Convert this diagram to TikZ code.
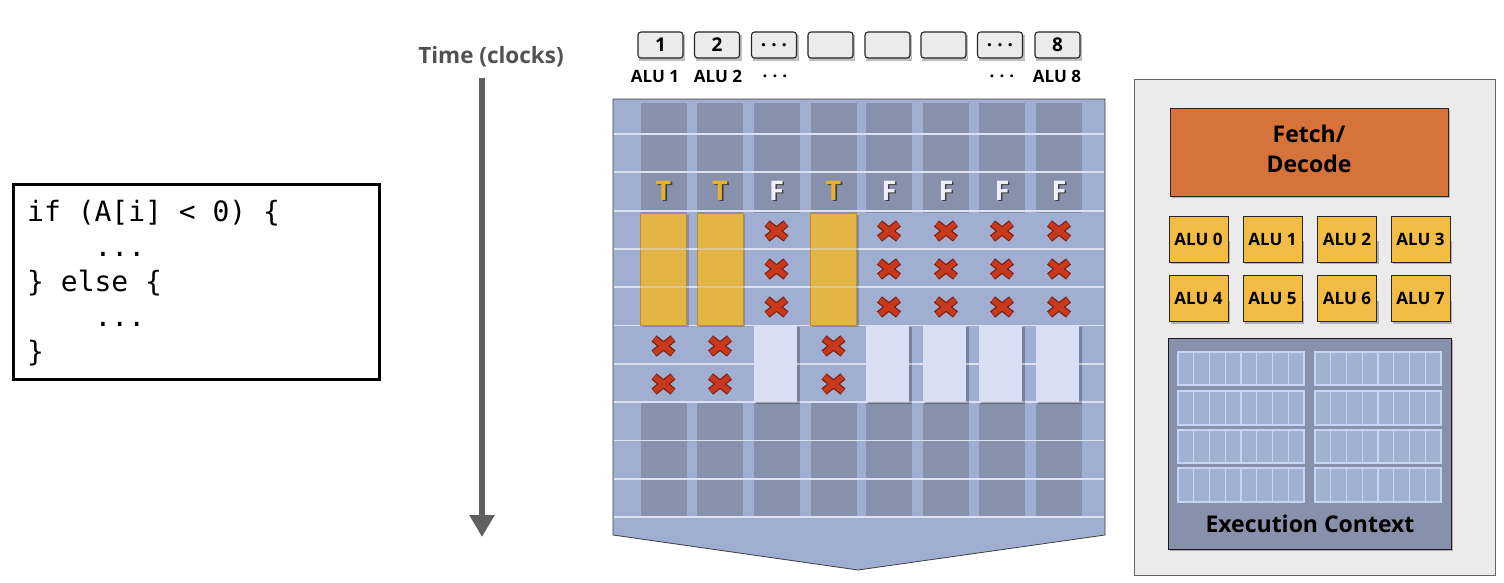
\documentclass[tikz,border=0pt]{standalone}
\usepackage{fontspec}
\setmainfont{Open Sans}
\newfontfamily\codefont{DejaVu Sans Mono}
\usetikzlibrary{arrows.meta}
\definecolor{panelblue}{HTML}{A0AED2}
\definecolor{colgray}{HTML}{8791AB}
\definecolor{gridline}{HTML}{DCE2F2}
\definecolor{lightbar}{HTML}{D9E0F5}
\definecolor{yellowbar}{HTML}{E3B545}
\definecolor{yellowedge}{HTML}{C08E28}
\definecolor{xred}{HTML}{C8381C}
\definecolor{xdark}{HTML}{7A1E10}
\definecolor{tgold}{HTML}{E8B030}
\definecolor{fwhite}{HTML}{EEF1FB}
\definecolor{corebg}{HTML}{EBEBEB}
\definecolor{fetchor}{HTML}{D5733A}
\definecolor{aluyel}{HTML}{F3BD45}
\definecolor{regcell}{HTML}{A2B0D2}
\definecolor{regedge}{HTML}{C8D4F4}
\definecolor{arrowgray}{HTML}{606060}
\newcommand{\spdots}{.\hspace{5pt}.\hspace{5pt}.}
\begin{document}
\begin{tikzpicture}[x=1pt,y=-1pt,
  topbox/.style={draw=black!85, line width=1.1pt, fill=black!8, rounded corners=3pt,
     minimum width=45pt, minimum height=26pt, inner sep=0pt,
     font=\bfseries\fontsize{19}{19}\selectfont},
  alulab/.style={font=\bfseries\fontsize{17}{17}\selectfont, inner sep=0pt},
  alubox/.style={draw=black!85, line width=1pt, fill=aluyel, minimum width=59pt,
     minimum height=46pt, inner sep=0pt, font=\bfseries\fontsize{17}{17}\selectfont},
  codeline/.style={anchor=base west, inner sep=0pt, font=\codefont\fontsize{28}{28}\selectfont},
  tflet/.style={inner sep=0pt, font=\bfseries\fontsize{27}{27}\selectfont},
  shad/.style={fill=black, opacity=0.25},
  xmark/.pic={
    \draw[line width=8pt, xdark] (-9.5,-7.5) -- (9.5,7.5) (-9.5,7.5) -- (9.5,-7.5);
    \draw[line width=5.6pt, xred] (-9,-7.1) -- (9,7.1) (-9,7.1) -- (9,-7.1);
  }]
\useasboundingbox (0,0) rectangle (1504,582);

% ---------------- code box
\node[draw=black, line width=3.5pt, minimum width=366pt, minimum height=195pt, inner sep=0pt]
  (code) at (196.5,282) {};
\node[codeline] (c1) at (27,221) {if (A[i] < 0) \{};
\node[codeline] (c2) at (27,256) {\ \ \ \ ...};
\node[codeline] (c3) at (27,291) {\} else \{};
\node[codeline] (c4) at (27,326) {\ \ \ \ ...};
\node[codeline] (c5) at (27,361) {\}};

% ---------------- time arrow
\node[font=\bfseries\fontsize{22.5}{22.5}\selectfont, text=black!68] (tlabel) at (491,57) {Time (clocks)};
\coordinate (tstart) at (482,78);
\coordinate (tend) at (482,537);
\draw[line width=6pt, arrowgray, -{Triangle[width=24pt,length=22pt]}] (tstart) -- (tend);

% ---------------- top boxes
\foreach \x/\t/\n in {660.5/1/b1, 717/2/b2, 774/{\spdots}/b3, 830.5/{}/b4,
                      887.5/{}/b5, 943.5/{}/b6, 1000/{\spdots}/b7, 1057.5/8/b8} {
  \fill[shad] ({\x-21.5},34.5) rectangle ({\x+24.5},60.5);
  \node[topbox] (\n) at (\x,45) {\t};
}
\node[alulab] (l1) at (655,76) {ALU 1};
\node[alulab] (l2) at (718,76) {ALU 2};
\node[alulab] (l3) at (775,76) {\spdots};
\node[alulab] (l7) at (1002,76) {\spdots};
\node[alulab] (l8) at (1057,76) {ALU 8};

% ---------------- execution panel
\draw[fill=panelblue, draw=black!75, line width=0.8pt]
  (613,99) -- (1105,99) -- (1105,535) -- (858,570) -- (613,535) -- cycle;
\foreach \c in {663.5,720,776.5,833.5,889,946,1002,1059} {
  \fill[colgray] ({\c-23},103) rectangle ({\c+23},213);
  \fill[colgray] ({\c-23},402) rectangle ({\c+23},517);
}
\foreach \k in {0,...,10}
  \draw[gridline, line width=1.8pt] (614,{134+38.3*\k}) -- (1104,{134+38.3*\k});

% T columns: yellow bars
\foreach \c in {663.5,720,833.5} {
  \fill[black, opacity=0.2] ({\c-21},215) rectangle ({\c+25},327);
  \draw[fill=yellowbar, draw=yellowedge, line width=0.8pt] ({\c-23},213) rectangle ({\c+23},325.5);
}
% F columns: light bars
\foreach \c in {776.5,889,946,1002,1059} {
  \fill[black, opacity=0.25] ({\c-21},327) rectangle ({\c+23},404);
  \fill[lightbar] ({\c-23},325.5) rectangle ({\c+20},402);
}
\foreach \k in {3,4,6}
  \draw[gridline, line width=1.5pt, opacity=0.45] (614,{134+38.3*\k}) -- (1104,{134+38.3*\k});

% T / F letters
\foreach \c/\l/\col in {663.5/T/tgold, 720/T/tgold, 776.5/F/fwhite, 833.5/T/tgold,
                        889/F/fwhite, 946/F/fwhite, 1002/F/fwhite, 1059/F/fwhite} {
  \node[tflet, text=black!75] at ({\c+1.6},192.2) {\l};
  \node[tflet, text=\col] at (\c,190.5) {\l};
}

% X marks
\foreach \c in {776.5,889,946,1002,1059}
  \foreach \y in {231,269,307}
    \pic at (\c,\y) {xmark};
\foreach \c in {663.5,720,833.5}
  \foreach \y in {346,384}
    \pic at (\c,\y) {xmark};

% ---------------- core diagram
\draw[fill=corebg, draw=black!60, line width=1pt] (1134,79) rectangle (1495,575);
\fill[shad] (1172,110) rectangle (1450,198);
\node[draw=black!85, line width=1pt, fill=fetchor, minimum width=278pt, minimum height=88pt,
      inner sep=0pt] (fetch) at (1309,152) {};
\node[inner sep=0pt, align=center, font=\bfseries\fontsize{23}{30}\selectfont]
  (fetchlab) at (1309,149) {Fetch/\\Decode};
\foreach \x/\n in {1198.5/0, 1272.5/1, 1347/2, 1420.5/3} {
  \fill[shad] ({\x-27.5},241) rectangle ({\x+31.5},264);
  \node[alubox] (alu\n) at (\x,239) {ALU \n};
}
\foreach \x/\n in {1198.5/4, 1272.5/5, 1347/6, 1420.5/7} {
  \fill[shad] ({\x-27.5},300.5) rectangle ({\x+31.5},323.5);
  \node[alubox] (alu\n) at (\x,298.5) {ALU \n};
}
\fill[shad] (1170,340) rectangle (1453,551);
\node[draw=black!90, line width=1pt, fill=colgray, minimum width=283pt, minimum height=211pt,
      inner sep=0pt] (ctx) at (1309.5,443.5) {};
\foreach \gx in {1178,1315} {
  \foreach \gy/\gh in {352/33, 391/34, 430/33, 468/34} {
    \foreach \i in {0,...,7} {
      \draw[fill=regcell, draw=regedge, line width=1.3pt]
        ({\gx+\i*15.75},\gy) rectangle ({\gx+(\i+1)*15.75},{\gy+\gh});
    }
  }
}
\node[font=\bfseries\fontsize{23}{23}\selectfont, inner sep=0pt] (ctxlab) at (1310,524) {Execution Context};
\end{tikzpicture}
\end{document}
